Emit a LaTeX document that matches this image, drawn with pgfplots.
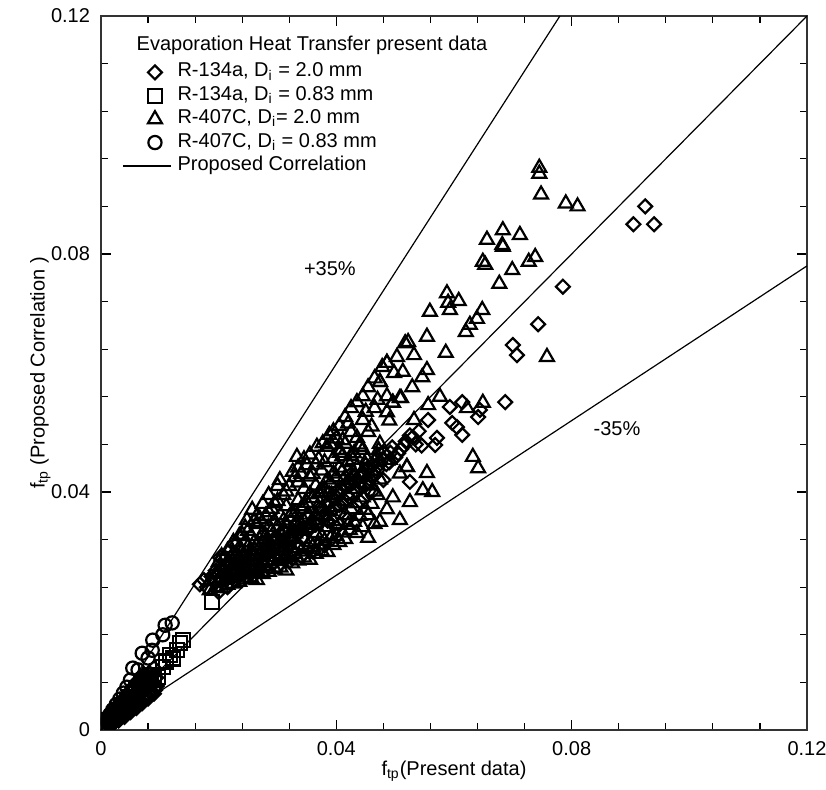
\documentclass[border=0pt]{standalone}
\usepackage{fontspec}
\setmainfont{Liberation Sans}
\usepackage{pgfplots}
\pgfplotsset{compat=1.18}

\pgfplotsset{
  marklegend/.style={legend image code/.code={%
    \pgfpathrectangle{\pgfpoint{0bp}{-3bp}}{\pgfpoint{24bp}{6bp}}\pgfusepath{}%
    \draw[##1] plot coordinates {(16bp,0bp)};}},
  linelegend/.style={legend image code/.code={%
    \draw[##1] (0bp,0bp) -- (24bp,0bp);}},
  pts/.style={only marks, marklegend},
}

\begin{document}
\begin{tikzpicture}
\begin{axis}[
  width=353bp, height=357bp, scale only axis,
  xmin=0, xmax=0.12, ymin=0, ymax=0.12,
  xtick={0,0.04,0.08,0.12}, ytick={0,0.04,0.08,0.12},
  xticklabels={0,0.04,0.08,0.12}, yticklabels={0,0.04,0.08,0.12},
  scaled ticks=false,
  minor tick num=4,
  tick align=inside,
  major tick length=5bp, minor tick length=3.5bp,
  tick style={black, line width=0.6bp},
  axis line style={black!80, line width=1bp},
  /pgf/number format/assume math mode=true,
  font=\fontsize{10bp}{12bp}\selectfont,
  xticklabel style={yshift=-2bp},
  yticklabel style={xshift=-2bp},
  xlabel={f\textsubscript{tp}(Present data)},
  ylabel={f\textsubscript{tp} (Proposed Correlation )},
  xlabel style={at={(axis description cs:0.5,-0.058)}, anchor=center},
  ylabel style={at={(axis description cs:-0.086,0.5)}, anchor=center},
  clip marker paths=true,
  legend cell align=left,
  legend style={draw=none, fill=none, inner sep=0pt,
    at={(axis description cs:0.0297,0.938)}, anchor=north west,
    column sep=3bp, row sep=0pt,
    nodes={inner sep=0pt, text height=8.1bp, text depth=3.6bp},
    font=\fontsize{10bp}{12bp}\selectfont},
]

% correlation lines
\addplot[black, line width=0.6bp, forget plot] coordinates {(0,0) (0.12,0.12)};
\addplot[black, line width=0.6bp, forget plot] coordinates {(0,0) (0.078,0.12)};
\addplot[black, line width=0.6bp, forget plot] coordinates {(0,0) (0.12,0.078)};

% R-134a, Di = 2.0 mm
\addplot[pts, mark=square, mark size=2.45bp,
  mark options={solid, black, fill=none, line width=1.1bp, rotate=45}] coordinates {
(0.0003,0.0004)(0.0007,0.0006)(0.0010,0.0011)(0.0014,0.0012)(0.0017,0.0018)(0.0021,0.0017)
(0.0024,0.0025)(0.0028,0.0023)(0.0031,0.0032)(0.0035,0.0029)(0.0038,0.0039)(0.0042,0.0035)
(0.0045,0.0046)(0.0049,0.0042)(0.0052,0.0054)(0.0056,0.0049)(0.0059,0.0061)(0.0063,0.0056)
(0.0066,0.0068)(0.0070,0.0063)(0.0073,0.0076)(0.0077,0.0070)(0.0080,0.0084)(0.0085,0.0078)
(0.0088,0.0092)(0.0094,0.0088)
(0.0012,0.0018)(0.0020,0.0028)(0.0027,0.0037)(0.0034,0.0046)(0.0041,0.0055)(0.0048,0.0064)
(0.0055,0.0073)(0.0062,0.0082)(0.0069,0.0090)
(0.0020,0.0010)(0.0030,0.0016)(0.0040,0.0022)(0.0050,0.0030)(0.0060,0.0037)(0.0070,0.0045)
(0.0080,0.0053)(0.0090,0.0061)(0.0015,0.0011)(0.0025,0.0019)(0.0035,0.0026)(0.0045,0.0034)
(0.0055,0.0042)(0.0065,0.0050)(0.0075,0.0058)(0.0085,0.0066)(0.0095,0.0074)
(0.0010,0.0016)(0.0018,0.0024)(0.0026,0.0033)(0.0033,0.0041)(0.0040,0.0049)(0.0047,0.0057)
(0.0054,0.0066)(0.0061,0.0074)(0.0068,0.0081)(0.0075,0.0088)(0.0082,0.0096)(0.0090,0.0104)
(0.0012,0.0008)(0.0022,0.0014)(0.0032,0.0021)(0.0042,0.0028)(0.0052,0.0036)(0.0062,0.0043)
(0.0072,0.0051)(0.0082,0.0059)(0.0092,0.0067)
(0.0168,0.0245)(0.0175,0.0252)(0.0180,0.0240)(0.0188,0.0258)(0.0195,0.0268)(0.0202,0.0290)
(0.0210,0.0262)(0.0220,0.0281)(0.0230,0.0270)(0.0240,0.0292)(0.0250,0.0280)(0.0262,0.0302)
(0.0272,0.0294)(0.0282,0.0312)(0.0292,0.0300)(0.0302,0.0322)(0.0312,0.0331)(0.0322,0.0324)
(0.0332,0.0345)(0.0342,0.0338)(0.0352,0.0356)(0.0362,0.0350)(0.0372,0.0372)(0.0382,0.0365)
(0.0388,0.0398)(0.0396,0.0388)(0.0405,0.0378)(0.0410,0.0405)(0.0418,0.0395)(0.0425,0.0430)
(0.0432,0.0418)(0.0440,0.0408)(0.0448,0.0430)(0.0456,0.0422)(0.0462,0.0445)(0.0470,0.0437)
(0.0478,0.0455)(0.0485,0.0447)(0.0492,0.0466)(0.0500,0.0458)(0.0510,0.0472)(0.0518,0.0485)
(0.0525,0.0417)(0.0530,0.0492)(0.0540,0.0502)(0.0545,0.0478)
(0.0205,0.0250)(0.0215,0.0240)(0.0225,0.0265)(0.0235,0.0258)(0.0245,0.0275)(0.0255,0.0268)
(0.0265,0.0290)(0.0275,0.0285)(0.0285,0.0298)(0.0295,0.0290)(0.0305,0.0310)(0.0315,0.0305)
(0.0325,0.0318)(0.0335,0.0330)(0.0345,0.0325)(0.0355,0.0338)(0.0365,0.0345)(0.0375,0.0358)
(0.0385,0.0352)(0.0395,0.0372)(0.0400,0.0400)(0.0415,0.0385)(0.0420,0.0415)(0.0435,0.0400)
(0.0440,0.0425)(0.0450,0.0412)(0.0455,0.0440)(0.0465,0.0428)(0.0475,0.0448)(0.0480,0.0465)
(0.0490,0.0450)(0.0495,0.0475)(0.0505,0.0465)(0.0515,0.0478)(0.0525,0.0495)(0.0535,0.0480)
(0.0200,0.0232)(0.0220,0.0246)(0.0240,0.0252)(0.0260,0.0260)(0.0280,0.0268)(0.0300,0.0275)
(0.0320,0.0283)(0.0340,0.0292)(0.0360,0.0300)(0.0380,0.0310)(0.0400,0.0340)(0.0420,0.0355)
(0.0440,0.0385)(0.0460,0.0400)(0.0480,0.0420)
(0.0785,0.0745)(0.0743,0.0682)(0.0700,0.0647)(0.0707,0.0630)(0.0687,0.0551)(0.0614,0.0551)
(0.0593,0.0543)(0.0614,0.0496)(0.0644,0.0538)(0.0641,0.0526)(0.0605,0.0509)(0.0571,0.0491)
(0.0568,0.0479)(0.0556,0.0521)(0.0597,0.0516)
(0.0905,0.0850)(0.0925,0.0880)(0.0940,0.0850)
};
\addlegendentry{R-134a, D\textsubscript{i} = 2.0 mm}

% R-134a, Di = 0.83 mm
\addplot[pts, mark=square, mark size=3.5bp,
  mark options={solid, black, fill=none, line width=1.1bp}] coordinates {
(0.0004,0.0005)(0.0009,0.0010)(0.0014,0.0016)(0.0019,0.0021)(0.0024,0.0027)(0.0029,0.0033)
(0.0034,0.0038)(0.0039,0.0044)(0.0044,0.0050)(0.0049,0.0055)(0.0054,0.0061)(0.0059,0.0067)
(0.0064,0.0072)(0.0069,0.0078)(0.0074,0.0084)(0.0079,0.0088)(0.0084,0.0093)(0.0090,0.0085)
(0.0097,0.0089)(0.0105,0.0106)(0.0110,0.0115)(0.0117,0.0126)(0.0122,0.0120)(0.0129,0.0134)
(0.0134,0.0146)(0.0139,0.0151)(0.0189,0.0215)
};
\addlegendentry{R-134a, D\textsubscript{i} = 0.83 mm}

% R-407C, Di = 2.0 mm
\addplot[pts, mark=triangle, mark size=4bp,
  mark options={solid, black, fill=none, line width=1.1bp}] coordinates {
(0.0185,0.0235)(0.0185,0.0250)(0.0195,0.0240)(0.0195,0.0262)
(0.0205,0.0238)(0.0205,0.0256)(0.0205,0.0274)(0.0205,0.0292)
(0.0215,0.0244)(0.0215,0.0262)(0.0215,0.0283)(0.0215,0.0301)
(0.0225,0.0246)(0.0225,0.0259)(0.0225,0.0276)(0.0225,0.0296)(0.0225,0.0316)
(0.0235,0.0249)(0.0235,0.0266)(0.0235,0.0286)(0.0235,0.0306)(0.0235,0.0326)
(0.0245,0.0253)(0.0245,0.0271)(0.0245,0.0291)(0.0245,0.0316)(0.0245,0.0340)(0.0248,0.0353)
(0.0255,0.0256)(0.0255,0.0276)(0.0255,0.0301)(0.0255,0.0326)(0.0257,0.0370)
(0.0265,0.0252)(0.0265,0.0268)(0.0265,0.0286)(0.0265,0.0311)(0.0265,0.0346)(0.0265,0.0360)
(0.0275,0.0262)(0.0275,0.0281)(0.0275,0.0302)(0.0275,0.0331)(0.0275,0.0380)
(0.0285,0.0266)(0.0285,0.0291)(0.0285,0.0311)(0.0285,0.0341)(0.0285,0.0366)(0.0285,0.0395)
(0.0295,0.0271)(0.0295,0.0296)(0.0295,0.0321)(0.0295,0.0351)(0.0295,0.0381)(0.0300,0.0410)
(0.0305,0.0273)(0.0305,0.0301)(0.0305,0.0331)(0.0305,0.0361)(0.0304,0.0420)
(0.0315,0.0268)(0.0315,0.0291)(0.0315,0.0316)(0.0315,0.0346)(0.0315,0.0376)(0.0315,0.0401)
(0.0325,0.0280)(0.0325,0.0306)(0.0325,0.0336)(0.0325,0.0366)(0.0326,0.0434)(0.0333,0.0459)
(0.0335,0.0285)(0.0335,0.0311)(0.0335,0.0341)(0.0335,0.0386)(0.0335,0.0416)(0.0335,0.0441)
(0.0345,0.0290)(0.0345,0.0321)(0.0345,0.0351)(0.0345,0.0376)(0.0345,0.0405)(0.0345,0.0455)
(0.0355,0.0286)(0.0355,0.0316)(0.0355,0.0346)(0.0355,0.0396)(0.0355,0.0426)(0.0355,0.0463)
(0.0365,0.0296)(0.0365,0.0331)(0.0365,0.0361)(0.0365,0.0411)(0.0365,0.0446)(0.0367,0.0476)
(0.0375,0.0301)(0.0375,0.0326)(0.0375,0.0371)(0.0375,0.0401)(0.0375,0.0436)(0.0377,0.0482)
(0.0385,0.0299)(0.0385,0.0341)(0.0385,0.0381)(0.0385,0.0421)(0.0384,0.0476)(0.0388,0.0496)
(0.0395,0.0311)(0.0395,0.0351)(0.0395,0.0391)(0.0395,0.0431)(0.0395,0.0456)(0.0395,0.0502)
(0.0405,0.0316)(0.0405,0.0346)(0.0405,0.0401)(0.0405,0.0441)(0.0405,0.0471)(0.0405,0.0511)
(0.0415,0.0321)(0.0415,0.0361)(0.0415,0.0411)(0.0415,0.0481)(0.0415,0.0526)
(0.0423,0.0336)(0.0425,0.0371)(0.0425,0.0421)(0.0425,0.0461)(0.0425,0.0501)(0.0425,0.0541)
(0.0435,0.0331)(0.0435,0.0381)(0.0435,0.0441)(0.0435,0.0491)(0.0435,0.0551)
(0.0445,0.0341)(0.0445,0.0391)(0.0445,0.0431)(0.0445,0.0471)(0.0445,0.0521)(0.0445,0.0561)
(0.0454,0.0323)(0.0454,0.0361)(0.0454,0.0411)(0.0454,0.0501)(0.0454,0.0576)
(0.0465,0.0346)(0.0465,0.0401)(0.0465,0.0451)(0.0465,0.0541)(0.0465,0.0591)
(0.0474,0.0350)(0.0474,0.0421)(0.0474,0.0481)(0.0474,0.0585)(0.0478,0.0610)
(0.0486,0.0371)(0.0486,0.0561)(0.0486,0.0617)(0.0490,0.0520)
(0.0496,0.0391)(0.0496,0.0550)(0.0498,0.0600)
(0.0508,0.0353)(0.0508,0.0431)(0.0508,0.0558)
(0.0525,0.0383)(0.0520,0.0442)(0.0547,0.0403)(0.0563,0.0400)
(0.0411,0.0487)(0.0440,0.0476)(0.0406,0.0466)(0.0428,0.0454)(0.0452,0.0425)
(0.0200,0.0248)(0.0200,0.0265)(0.0200,0.0282)
(0.0210,0.0252)(0.0210,0.0270)(0.0210,0.0290)
(0.0220,0.0255)(0.0220,0.0268)(0.0220,0.0288)(0.0220,0.0306)
(0.0230,0.0258)(0.0230,0.0275)(0.0230,0.0295)(0.0230,0.0315)
(0.0240,0.0262)(0.0240,0.0280)(0.0240,0.0300)(0.0240,0.0328)
(0.0250,0.0265)(0.0250,0.0285)(0.0250,0.0308)(0.0250,0.0335)
(0.0260,0.0268)(0.0260,0.0292)(0.0260,0.0315)(0.0260,0.0350)
(0.0270,0.0272)(0.0270,0.0296)(0.0270,0.0320)(0.0270,0.0355)
(0.0280,0.0276)(0.0280,0.0300)(0.0280,0.0326)(0.0280,0.0360)
(0.0290,0.0280)(0.0290,0.0306)(0.0290,0.0335)(0.0290,0.0372)
(0.0300,0.0284)(0.0300,0.0312)(0.0300,0.0342)(0.0300,0.0385)
(0.0310,0.0287)(0.0310,0.0318)(0.0310,0.0352)(0.0310,0.0395)
(0.0320,0.0292)(0.0320,0.0322)(0.0320,0.0358)(0.0320,0.0410)
(0.0330,0.0296)(0.0330,0.0330)(0.0330,0.0365)(0.0330,0.0425)
(0.0340,0.0300)(0.0340,0.0335)(0.0340,0.0372)(0.0340,0.0430)
(0.0350,0.0304)(0.0350,0.0340)(0.0350,0.0382)(0.0350,0.0445)
(0.0360,0.0308)(0.0360,0.0345)(0.0360,0.0390)(0.0360,0.0430)
(0.0370,0.0312)(0.0370,0.0352)(0.0370,0.0398)(0.0370,0.0455)
(0.0380,0.0318)(0.0380,0.0360)(0.0380,0.0405)(0.0380,0.0450)
(0.0390,0.0322)(0.0390,0.0368)(0.0390,0.0415)(0.0390,0.0480)
(0.0400,0.0326)(0.0400,0.0375)(0.0400,0.0425)(0.0400,0.0490)
(0.0410,0.0332)(0.0410,0.0385)(0.0410,0.0435)(0.0410,0.0460)
(0.0420,0.0345)(0.0420,0.0395)(0.0420,0.0450)(0.0420,0.0515)
(0.0430,0.0350)(0.0430,0.0405)(0.0430,0.0465)
(0.0440,0.0360)(0.0440,0.0415)(0.0440,0.0480)
(0.0450,0.0370)(0.0450,0.0445)(0.0450,0.0535)
(0.0460,0.0380)(0.0460,0.0435)(0.0460,0.0510)
(0.0470,0.0395)(0.0470,0.0460)(0.0470,0.0555)
(0.0212,0.0277)(0.0232,0.0283)(0.0252,0.0292)(0.0272,0.0310)(0.0292,0.0318)(0.0312,0.0335)
(0.0332,0.0350)(0.0352,0.0362)(0.0372,0.0382)(0.0392,0.0395)(0.0412,0.0420)(0.0432,0.0428)
(0.0452,0.0455)(0.0472,0.0470)
(0.0656,0.0824)(0.0683,0.0812)(0.0682,0.0815)(0.0712,0.0832)(0.0683,0.0840)
(0.0649,0.0787)(0.0653,0.0782)(0.0738,0.0795)(0.0727,0.0787)(0.0699,0.0773)(0.0677,0.0750)
(0.0588,0.0734)(0.0559,0.0703)(0.0590,0.0718)(0.0593,0.0706)(0.0608,0.0721)(0.0648,0.0706)
(0.0639,0.0691)(0.0627,0.0681)(0.0620,0.0669)(0.0554,0.0661)(0.0522,0.0652)(0.0517,0.0650)
(0.0586,0.0634)(0.0532,0.0630)(0.0503,0.0627)(0.0486,0.0617)(0.0513,0.0602)(0.0546,0.0593)
(0.0554,0.0605)(0.0529,0.0576)(0.0474,0.0585)(0.0758,0.0627)
(0.0576,0.0560)(0.0556,0.0546)(0.0510,0.0558)(0.0496,0.0550)(0.0622,0.0541)(0.0649,0.0550)
(0.0532,0.0521)(0.0486,0.0534)
(0.0632,0.0459)(0.0641,0.0440)(0.0554,0.0432)(0.0520,0.0442)(0.0491,0.0454)
(0.0745,0.0945)(0.0745,0.0935)(0.0748,0.0900)(0.0790,0.0885)(0.0810,0.0880)
};
\addlegendentry{R-407C, D\textsubscript{i}= 2.0 mm}

% R-407C, Di = 0.83 mm
\addplot[pts, mark=o, mark size=3.3bp,
  mark options={solid, black, fill=none, line width=1.1bp}] coordinates {
(0.0005,0.0009)(0.0010,0.0018)(0.0015,0.0026)(0.0020,0.0034)(0.0026,0.0043)(0.0032,0.0052)
(0.0038,0.0062)(0.0044,0.0072)(0.0050,0.0084)(0.0054,0.0104)(0.0063,0.0101)(0.0070,0.0129)
(0.0080,0.0121)(0.0087,0.0134)(0.0088,0.0151)(0.0105,0.0160)(0.0109,0.0176)(0.0121,0.0180)
};
\addlegendentry{R-407C, D\textsubscript{i} = 0.83 mm}

\addlegendimage{black, line width=0.6bp, linelegend}
\addlegendentry{Proposed Correlation}

\node[anchor=base west, inner sep=0pt] at (rel axis cs:0.050,0.952) {Evaporation Heat Transfer present data};
\node at (axis cs:0.0389,0.0776) {+35\%};
\node at (axis cs:0.0877,0.0506) {-35\%};

\path (rel axis cs:0,0) ++(-50.5bp,-30bp) coordinate (bl);
\path (rel axis cs:1,1) ++(9.5bp,8bp) coordinate (tr);
\end{axis}
\pgfresetboundingbox
\useasboundingbox (bl) rectangle (tr);
\end{tikzpicture}
\end{document}
